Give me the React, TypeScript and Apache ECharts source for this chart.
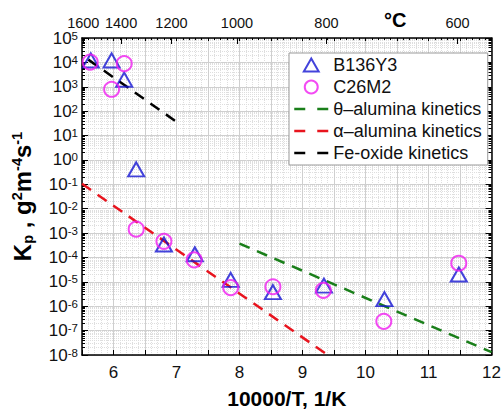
import React, { useEffect, useRef } from 'react';
import * as echarts from 'echarts';

// B136Y3 (blue triangles): [10000/T, Kp]
const b136y3: [number, number][] = [
  [5.64, 1.2e4], [5.97, 1.2e4], [6.17, 1.95e3], [6.36, 0.41], [6.8, 3.4e-4],
  [7.29, 1.35e-4], [7.86, 1.2e-5], [8.53, 3.8e-6], [9.34, 7e-6], [10.3, 1.95e-6], [11.48, 2.0e-5],
];
// C26M2 (magenta circles)
const c26m2: [number, number][] = [
  [5.63, 1.03e4], [6.17, 8.9e3], [5.97, 7.9e2], [6.36, 1.45e-3], [6.8, 4.6e-4],
  [7.28, 8e-5], [7.86, 5.8e-6], [8.53, 6.3e-6], [9.33, 4.5e-6], [10.29, 2.4e-7], [11.48, 5.8e-5],
];
// kinetics lines
const thetaLine: [number, number][] = [[8.0, 3.7e-4], [12, 1.3e-8]];
const alphaLine: [number, number][] = [[5.5, 0.105], [9.4, 1e-8]];
const feLine: [number, number][] = [[5.6, 1.3e4], [7.01, 35]];

// top axis (°C) ticks
const topTickC = [1600, 1400, 1200, 1000, 800, 600];
const topTickX = [5.52, 6.12, 6.92, 7.96, 9.38, 11.46];
const celsiusX = 10.47;

const xMin = 5.5;
const xMax = 12;
const yMinExp = -8;
const yMaxExp = 5;

// minor log tick positions, in decade (exponent) units
const minorYExp: number[] = [];
for (let n = yMinExp; n < yMaxExp; n++) {
  for (let k = 2; k <= 9; k++) minorYExp.push(n + Math.log10(k));
}

const FONT = 'Liberation Sans, Arial, sans-serif';
const GREEN = '#1a7f1a';
const RED = '#e8141e';
const BLUE = '#1414d2';
const MAGENTA = '#f01ef0';
const DASH = [11, 8];
const LEGEND_DASH = [11, 12];

export default function App() {
  const ref = useRef<HTMLDivElement>(null);
  useEffect(() => {
    if (!ref.current) return;
    const chart = echarts.init(ref.current, undefined, { renderer: 'svg' });
    const yMin = Math.pow(10, yMinExp);
    const yMax = Math.pow(10, yMaxExp);
    const logY = { type: 'log' as const, logBase: 10, min: yMin, max: yMax, interval: 1 };
    const expY = { type: 'value' as const, min: yMinExp, max: yMaxExp };
    const lineLegend = (name: string, color: string) => ({
      name,
      icon: 'line',
      itemStyle: { color, borderColor: color, borderWidth: 2.5, borderType: LEGEND_DASH },
    });
    chart.setOption({
      animation: false,
      textStyle: { fontFamily: FONT },
      grid: { left: 82, right: 11, top: 38, bottom: 46 },
      legend: {
        orient: 'vertical',
        left: 289,
        top: 53,
        backgroundColor: '#fff',
        borderColor: '#999',
        borderWidth: 1,
        borderRadius: 0,
        padding: [3, 6, 3, 4],
        itemWidth: 34,
        itemHeight: 13,
        itemGap: 4,
        textStyle: { fontSize: 18, color: '#111', fontFamily: FONT },
        data: [
          { name: 'B136Y3', icon: 'path://M8,0L16,14L0,14Z' },
          { name: 'C26M2', icon: 'circle' },
          lineLegend('θ–alumina kinetics', GREEN),
          lineLegend('α–alumina kinetics', RED),
          lineLegend('Fe-oxide kinetics', '#000'),
        ],
      },
      xAxis: [
        {
          type: 'value',
          position: 'bottom',
          min: xMin,
          max: xMax,
          interval: 0.5,
          name: '10000/T, 1/K',
          nameLocation: 'middle',
          nameGap: 33,
          nameTextStyle: { fontSize: 21, fontWeight: 'bold', color: '#000', fontFamily: FONT },
          axisLine: { onZero: false, lineStyle: { color: '#000', width: 1.5 } },
          axisTick: { inside: true, length: 5, lineStyle: { color: '#000' } },
          axisLabel: {
            fontSize: 17,
            color: '#111',
            margin: 9,
            formatter: (v: number) => (Math.abs(v - Math.round(v)) < 1e-6 ? String(Math.round(v)) : ''),
          },
          splitLine: { show: true, lineStyle: { color: '#cfcfcf', width: 1 } },
          minorTick: { show: false, splitNumber: 5 },
          minorSplitLine: { show: true, lineStyle: { color: '#dedede', type: 'dotted', width: 1 } },
        },
        {
          type: 'value',
          position: 'top',
          min: xMin,
          max: xMax,
          axisLine: { show: true, onZero: false, lineStyle: { color: '#000', width: 1.5 } },
          axisTick: { show: true, inside: true, length: 6, customValues: topTickX, lineStyle: { color: '#000' } },
          axisLabel: {
            show: true,
            fontSize: 14.5,
            color: '#111',
            margin: 8,
            customValues: [...topTickX, celsiusX],
            formatter: (v: number) => {
              if (Math.abs(v - celsiusX) < 1e-6) return '{c|°C}';
              const i = topTickX.findIndex((t) => Math.abs(t - v) < 1e-6);
              return i >= 0 ? String(topTickC[i]) : '';
            },
            rich: { c: { fontSize: 20, fontWeight: 'bold', color: '#000', fontFamily: FONT } },
          },
          splitLine: { show: false },
        },
        {
          type: 'value',
          position: 'top',
          min: xMin,
          max: xMax,
          interval: 0.5,
          axisLine: { show: false, onZero: false },
          axisTick: { show: true, inside: true, length: 3, lineStyle: { color: '#000' } },
          minorTick: { show: true, splitNumber: 5, length: 2, lineStyle: { color: '#000' } },
          axisLabel: { show: false },
          splitLine: { show: false },
        },
      ],
      yAxis: [
        {
          ...logY,
          position: 'left',
          name: 'K{sub|p}{b| , g}{sup|2}{b|m}{sup|-4}{b|s}{sup|-1}',
          nameLocation: 'middle',
          nameRotate: 90,
          nameGap: 47,
          nameTextStyle: {
            fontSize: 24,
            fontWeight: 'bold',
            color: '#000',
            fontFamily: FONT,
            rich: {
              b: { fontSize: 24, fontWeight: 'bold', color: '#000', fontFamily: FONT },
              sub: { fontSize: 14.5, fontWeight: 'bold', color: '#000', fontFamily: FONT, verticalAlign: 'bottom', padding: [11, 0, 0, 0] },
              sup: { fontSize: 14.5, fontWeight: 'bold', color: '#000', fontFamily: FONT, verticalAlign: 'top', padding: [0, 0, 11, 0] },
            },
          },
          axisLine: { show: true, onZero: false, lineStyle: { color: '#000', width: 1.5 } },
          axisTick: { show: true, inside: true, length: 6, lineStyle: { color: '#000' } },
          axisLabel: {
            fontSize: 17,
            color: '#111',
            margin: 4,
            formatter: (v: number) => `10{s|${Math.round(Math.log10(v))}}`,
            rich: { s: { fontSize: 11.5, color: '#111', verticalAlign: 'top', padding: [0, 0, 5, 0] } },
          },
          splitLine: { show: true, lineStyle: { color: '#cfcfcf', width: 1 } },
        },
        {
          ...expY,
          position: 'left',
          axisLine: { show: false, onZero: false },
          axisTick: { show: true, inside: true, length: 3, customValues: minorYExp, lineStyle: { color: '#000' } },
          axisLabel: { show: false },
          splitLine: { show: true, lineStyle: { color: '#dedede', type: 'dotted', width: 1 } },
        },
        {
          ...logY,
          position: 'right',
          axisLine: { show: true, onZero: false, lineStyle: { color: '#000', width: 1.5 } },
          axisTick: { show: true, inside: true, length: 6, lineStyle: { color: '#000' } },
          axisLabel: { show: false },
          splitLine: { show: false },
        },
        {
          ...expY,
          position: 'right',
          axisLine: { show: false, onZero: false },
          axisTick: { show: true, inside: true, length: 3, customValues: minorYExp, lineStyle: { color: '#000' } },
          axisLabel: { show: false },
          splitLine: { show: false },
        },
      ],
      series: [
        {
          name: 'θ–alumina kinetics',
          type: 'line',
          data: thetaLine,
          symbol: 'none',
          clip: true,
          z: 3,
          lineStyle: { color: GREEN, width: 2.5, type: DASH },
          itemStyle: { color: GREEN },
        },
        {
          name: 'α–alumina kinetics',
          type: 'line',
          data: alphaLine,
          symbol: 'none',
          clip: true,
          z: 3,
          lineStyle: { color: RED, width: 2.5, type: DASH },
          itemStyle: { color: RED },
        },
        {
          name: 'Fe-oxide kinetics',
          type: 'line',
          data: feLine,
          symbol: 'none',
          clip: true,
          z: 3,
          lineStyle: { color: '#000', width: 2.5, type: DASH },
          itemStyle: { color: '#000' },
        },
        {
          name: 'B136Y3',
          type: 'scatter',
          data: b136y3,
          symbol: 'triangle',
          symbolSize: [16, 14],
          z: 4,
          itemStyle: { color: 'rgba(0,0,0,0)', borderColor: BLUE, borderWidth: 2 },
        },
        {
          name: 'C26M2',
          type: 'scatter',
          data: c26m2,
          symbol: 'circle',
          symbolSize: 15,
          z: 4,
          itemStyle: { color: 'rgba(0,0,0,0)', borderColor: MAGENTA, borderWidth: 2 },
        },
      ],
    });
    return () => chart.dispose();
  }, []);
  return <div ref={ref} style={{ width: 504, height: 414, position: 'absolute', left: 0, top: 0 }} />;
}
